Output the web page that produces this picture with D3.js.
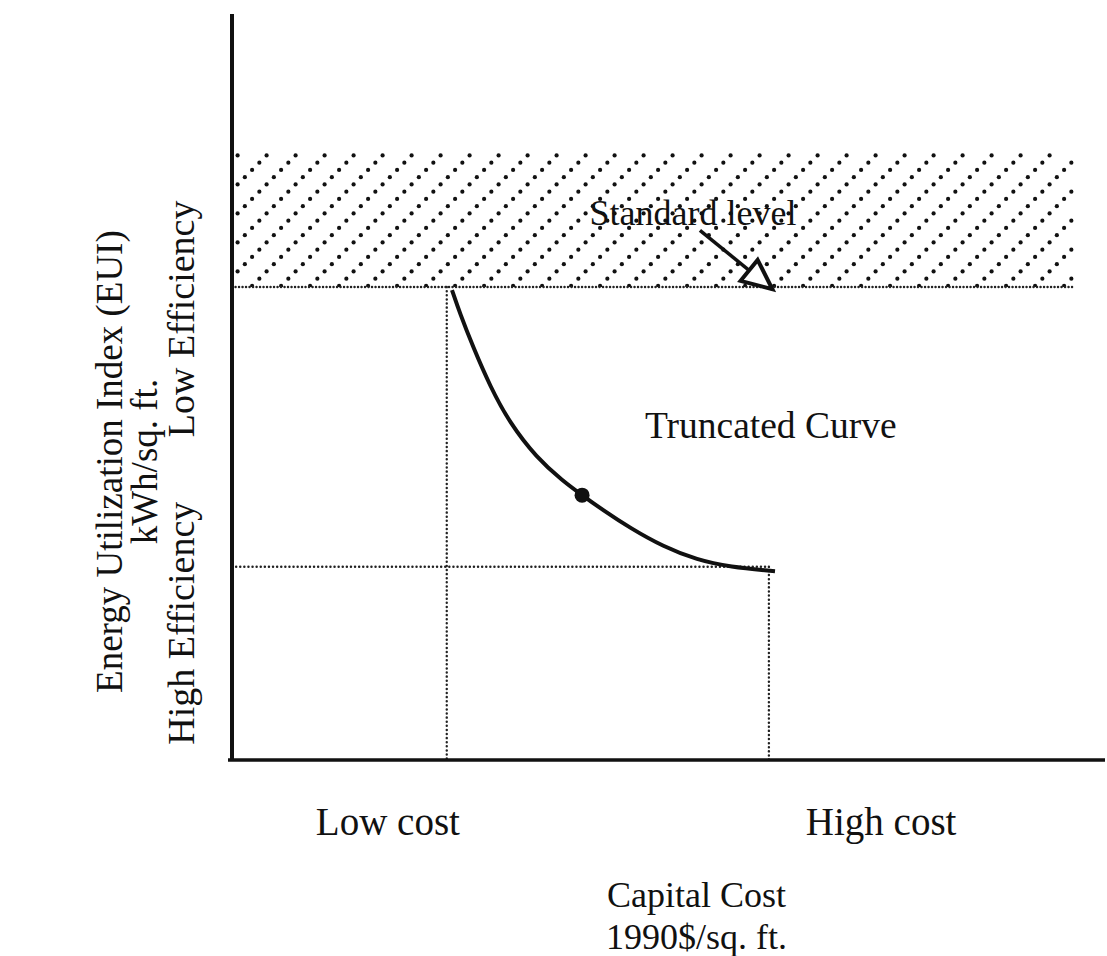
<!DOCTYPE html>
<html>
<head>
<meta charset="utf-8">
<script src="https://cdn.jsdelivr.net/npm/d3@7"></script>
<style>
  body { margin: 0; background: #fff; }
  text { font-family: "Liberation Serif", "Times New Roman", serif; fill: #111; }
</style>
</head>
<body>
<div id="chart"></div>
<script>
// values, in relative units (0-100 on both axes)
var curveCost = [25.2, 26.1, 27.6, 29.6, 31.8, 34.9, 37.9, 40.1, 42.5, 45.6, 49.4, 53.3, 57.0, 62.2];
var curveEui = [63.0, 59.9, 55.4, 50.0, 45.2, 40.5, 37.4, 35.5, 33.5, 31.1, 28.6, 26.8, 25.9, 25.3];
var pointCost = [40.1];
var pointEui = [35.5];

var standardLevel = 63.4;
var hatchTop = 81.5;
var hatchRight = 96.6;
var lowCostValue = 24.6;
var highCostValue = 61.5;
var highEffValue = 25.9;

var xTickValues = [17.8, 74.3];
var xTickLabels = ["Low cost", "High cost"];
var yTickValues = [59.2, 18.4];
var yTickLabels = ["Low Efficiency", "High Efficiency"];

var xTitle = ["Capital Cost", "1990$/sq. ft."];
var yTitle = ["Energy Utilization Index (EUI)", "kWh/sq. ft."];

var arrowFrom = [53.6, 71.0];
var arrowTo = [61.9, 63.1];

// margins
var margin = { top: 14, right: 2, bottom: 196, left: 232 },
  width = 1107 - margin.left - margin.right,
  height = 956 - margin.top - margin.bottom;

var svg = d3
  .select("#chart")
  .append("svg")
  .attr("width", width + margin.left + margin.right)
  .attr("height", height + margin.top + margin.bottom)
  .append("g")
  .attr("transform", "translate(" + margin.left + "," + margin.top + ")");

var x = d3.scaleLinear().domain([0, 100]).range([0, width]);
var y = d3.scaleLinear().domain([0, 100]).range([height, 0]);

// dotted diagonal hatch
var defs = svg.append("defs");
var pattern = defs
  .append("pattern")
  .attr("id", "hatch")
  .attr("patternUnits", "userSpaceOnUse")
  .attr("x", 2)
  .attr("y", 0)
  .attr("width", 29)
  .attr("height", 29);
pattern
  .selectAll("circle")
  .data([0, 1, 2, 3])
  .enter()
  .append("circle")
  .attr("cx", (d) => d * 7.25 + 3.6)
  .attr("cy", (d) => 29 - d * 7.25 - 3.6)
  .attr("r", 2.1)
  .attr("fill", "#111");

// open triangle arrow head
defs
  .append("marker")
  .attr("id", "openArrow")
  .attr("markerUnits", "userSpaceOnUse")
  .attr("viewBox", "-4 -18 39 36")
  .attr("markerWidth", 39)
  .attr("markerHeight", 36)
  .attr("refX", 30)
  .attr("refY", 0)
  .attr("orient", "auto")
  .append("path")
  .attr("d", "M0,-13.5L30,0L0,13.5Z")
  .attr("fill", "#fff")
  .attr("stroke", "#111")
  .attr("stroke-width", 4)
  .attr("stroke-linejoin", "miter");

svg
  .append("rect")
  .attr("x", x(0))
  .attr("y", y(hatchTop))
  .attr("width", x(hatchRight) - x(0))
  .attr("height", y(standardLevel) - y(hatchTop))
  .attr("fill", "url(#hatch)");

// dotted reference lines
var dotted = function (x1, y1, x2, y2, gap) {
  svg
    .append("line")
    .attr("x1", x(x1))
    .attr("y1", y(y1))
    .attr("x2", x(x2))
    .attr("y2", y(y2))
    .attr("stroke", "#222")
    .attr("stroke-width", 2.4)
    .attr("stroke-linecap", "round")
    .attr("stroke-dasharray", "0.1," + gap);
};
dotted(0, standardLevel, hatchRight, standardLevel, 3.4);
dotted(lowCostValue, standardLevel, lowCostValue, 0, 4);
dotted(0, highEffValue, highCostValue, highEffValue, 4);
dotted(highCostValue, highEffValue, highCostValue, 0, 4);

// axis lines
svg
  .append("line")
  .attr("x1", x(0))
  .attr("y1", y(0))
  .attr("x2", x(0))
  .attr("y2", y(100))
  .attr("stroke", "#111")
  .attr("stroke-width", 4);
svg
  .append("line")
  .attr("x1", x(0) - 4)
  .attr("y1", y(0))
  .attr("x2", x(100))
  .attr("y2", y(0))
  .attr("stroke", "#111")
  .attr("stroke-width", 3.5);

// the cost curve
var curveData = curveCost.map((d, i) => ({ cost: d, eui: curveEui[i] }));
var line = d3
  .line()
  .x((d) => x(d.cost))
  .y((d) => y(d.eui))
  .curve(d3.curveBasis);

svg
  .append("path")
  .datum(curveData)
  .attr("fill", "none")
  .attr("stroke", "#111")
  .attr("stroke-width", 4)
  .attr("d", line);

svg
  .selectAll(".pt")
  .data(pointCost)
  .enter()
  .append("circle")
  .attr("class", "pt")
  .attr("cx", (d) => x(d))
  .attr("cy", (d, i) => y(pointEui[i]))
  .attr("r", 7.5)
  .attr("fill", "#111");

// category labels on the axes
var xaxis = svg
  .append("g")
  .attr("transform", "translate(0," + height + ")")
  .call(
    d3
      .axisBottom(x)
      .tickValues(xTickValues)
      .tickFormat((d, i) => xTickLabels[i])
      .tickSize(0)
      .tickPadding(0)
  );
xaxis.select(".domain").remove();
xaxis
  .selectAll("text")
  .attr("dy", 0)
  .attr("y", 75)
  .style("font-size", "39px")
  .style("font-family", "Liberation Serif");

var yaxis = svg
  .append("g")
  .call(
    d3
      .axisLeft(y)
      .tickValues(yTickValues)
      .tickFormat((d, i) => yTickLabels[i])
      .tickSize(0)
  );
yaxis.select(".domain").remove();
yaxis
  .selectAll("text")
  .attr("transform", "rotate(-90)")
  .attr("x", 0)
  .attr("y", -38)
  .attr("dy", 0)
  .attr("text-anchor", "middle")
  .style("font-size", "38px")
  .style("font-family", "Liberation Serif");

// axis titles
svg
  .append("text")
  .attr("x", x(53.2))
  .attr("y", height + 147)
  .attr("text-anchor", "middle")
  .style("font-size", "36px")
  .selectAll("tspan")
  .data(xTitle)
  .enter()
  .append("tspan")
  .attr("x", x(53.2))
  .attr("dy", (d, i) => (i ? 42 : 0))
  .text((d) => d);

svg
  .append("text")
  .attr("transform", "translate(" + (-110) + "," + y(40) + ") rotate(-90)")
  .attr("text-anchor", "middle")
  .style("font-size", "37px")
  .selectAll("tspan")
  .data(yTitle)
  .enter()
  .append("tspan")
  .attr("x", 0)
  .attr("dy", (d, i) => (i ? 35 : 0))
  .text((d) => d);

// annotations
svg
  .append("text")
  .attr("x", x(52.8))
  .attr("y", y(71.7))
  .attr("text-anchor", "middle")
  .style("font-size", "36px")
  .text("Standard level");

svg
  .append("line")
  .attr("x1", x(arrowFrom[0]))
  .attr("y1", y(arrowFrom[1]))
  .attr("x2", x(arrowTo[0]))
  .attr("y2", y(arrowTo[1]))
  .attr("stroke", "#111")
  .attr("stroke-width", 3.5)
  .attr("marker-end", "url(#openArrow)");

svg
  .append("text")
  .attr("x", x(47.3))
  .attr("y", y(43.1))
  .style("font-size", "37.5px")
  .text("Truncated Curve");
</script>
</body>
</html>
